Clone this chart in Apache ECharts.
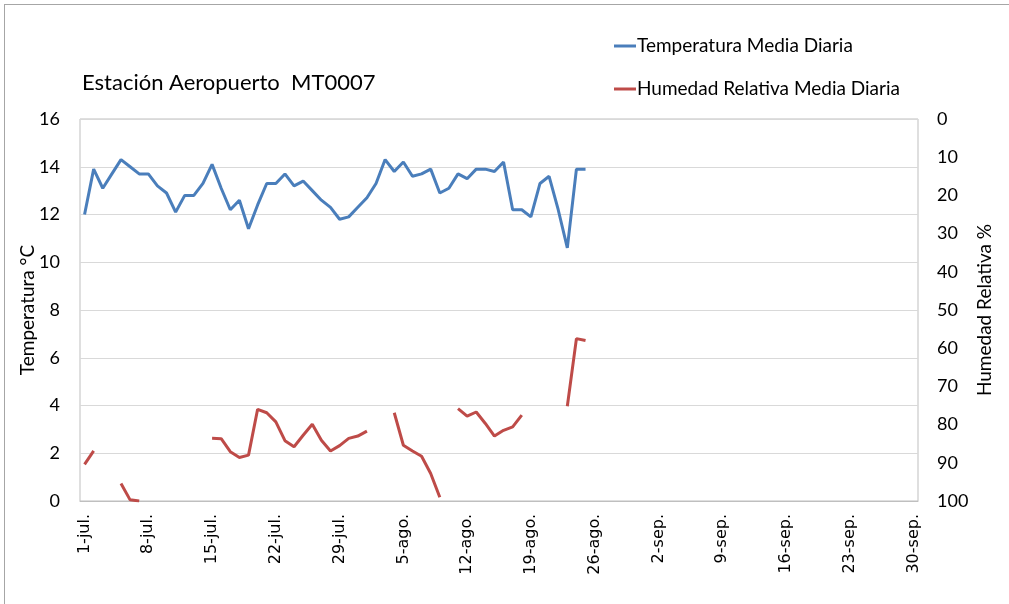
<!DOCTYPE html>
<html>
<head>
<meta charset="utf-8">
<script src="https://cdn.jsdelivr.net/npm/echarts@6/dist/echarts.min.js"></script>
<style>
  html, body { margin: 0; padding: 0; background: #fff; }
  #main { width: 1009px; height: 604px; }
  #frame { position: absolute; left: 4px; top: 4px; width: 1005px; height: 600px;
           border-left: 1px solid #a6a6a6; border-top: 1px solid #a6a6a6; pointer-events: none; }
</style>
</head>
<body>
<div id="main"></div>
<div id="frame"></div>
<script>
// 1-jul .. 30-sep, one category per day
var months = [['jul.', 31], ['ago.', 31], ['sep.', 30]];
var days = [];
months.forEach(function (m) {
    for (var d = 1; d <= m[1]; d++) days.push(d + '-' + m[0]);
});

// Daily mean temperature (°C), 1-jul .. 25-ago
var temperatura = [
    12.0, 13.9, 13.1, 13.7, 14.3, 14.0, 13.7, 13.7, 13.2, 12.9,
    12.1, 12.8, 12.8, 13.3, 14.1, 13.1, 12.2, 12.6, 11.4, 12.4,
    13.3, 13.3, 13.7, 13.2, 13.4, 13.0, 12.6, 12.3, 11.8, 11.9,
    12.3, 12.7, 13.3, 14.3, 13.8, 14.2, 13.6, 13.7, 13.9, 12.9,
    13.1, 13.7, 13.5, 13.9, 13.9, 13.8, 14.2, 12.2, 12.2, 11.9,
    13.3, 13.6, 12.2, 10.6, 13.9, 13.9
];

// Daily mean relative humidity (%), gaps are missing days
var humedad = [
    90.4, 86.9, null, null, 95.4, 99.7, 100, null, null, null,
    null, null, null, null, 83.6, 83.7, 87.1, 88.6, 88.0, 76.0,
    76.9, 79.3, 84.2, 85.8, 82.8, 79.9, 84.1, 86.9, 85.5, 83.6,
    83.0, 81.7, null, null, 76.9, 85.4, 86.9, 88.3, 92.8, 99.0,
    null, 75.8, 77.8, 76.7, 79.7, 83.0, 81.5, 80.6, 77.5, null,
    null, null, null, 75.2, 57.5, 58.0
];

function pad(arr) {
    var out = arr.slice();
    while (out.length < days.length) out.push(null);
    return out;
}

var font = 'Lato, "Noto Sans", sans-serif';
var myChart = echarts.init(document.getElementById('main'));

// axis titles drawn as rotated text (reads bottom to top)
function axisTitle(text, x) {
    return {
        type: 'text',
        x: x, y: 310,
        rotation: Math.PI / 2,
        style: {
            text: text,
            fill: '#000',
            font: '19px ' + font,
            textAlign: 'center',
            textVerticalAlign: 'middle'
        }
    };
}

var option = {
    animation: false,
    title: {
        text: 'Estación Aeropuerto  MT0007',
        left: 77,
        top: 67,
        textStyle: { fontFamily: font, fontSize: 22, fontWeight: 'normal', color: '#000' }
    },
    legend: {
        orient: 'vertical',
        left: 609,
        top: 30,
        itemGap: 21,
        itemWidth: 22,
        itemHeight: 3,
        icon: 'rect',
        textStyle: { fontFamily: font, fontSize: 19, color: '#000', lineHeight: 22, padding: [0, 0, 0, -4] },
        data: ['Temperatura Media Diaria', 'Humedad Relativa Media Diaria']
    },
    graphic: [
        axisTitle('Temperatura °C', 28),
        axisTitle('Humedad Relativa %', 985)
    ],
    grid: {
        left: 80, right: 91, top: 119, bottom: 103,
        show: true, borderColor: '#bfbfbf', borderWidth: 1
    },
    xAxis: {
        type: 'category',
        data: days,
        boundaryGap: true,
        axisLine: { lineStyle: { color: '#bfbfbf' } },
        axisTick: { show: false },
        axisLabel: {
            interval: 6,
            rotate: 90,
            margin: 13,
            fontFamily: '"DejaVu Sans", sans-serif',
            fontSize: 16,
            color: '#000'
        }
    },
    yAxis: [
        {
            type: 'value',
            min: 0, max: 16, interval: 2,
            axisLine: { show: false },
            axisTick: { show: false },
            axisLabel: { margin: 20, fontFamily: font, fontSize: 18, color: '#000' },
            splitLine: { lineStyle: { color: '#d9d9d9' } }
        },
        {
            type: 'value',
            min: 0, max: 100, interval: 10,
            inverse: true,
            axisLine: { show: false },
            axisTick: { show: false },
            axisLabel: { margin: 19, fontFamily: font, fontSize: 18, color: '#000' },
            splitLine: { show: false }
        }
    ],
    series: [
        {
            name: 'Temperatura Media Diaria',
            type: 'line',
            data: pad(temperatura),
            symbol: 'none',
            connectNulls: false,
            itemStyle: { color: '#4a7ebb' },
            lineStyle: { color: '#4a7ebb', width: 3 }
        },
        {
            name: 'Humedad Relativa Media Diaria',
            type: 'line',
            yAxisIndex: 1,
            data: pad(humedad),
            symbol: 'none',
            connectNulls: false,
            itemStyle: { color: '#be4b48' },
            lineStyle: { color: '#be4b48', width: 3 }
        }
    ]
};

myChart.setOption(option);
</script>
</body>
</html>
